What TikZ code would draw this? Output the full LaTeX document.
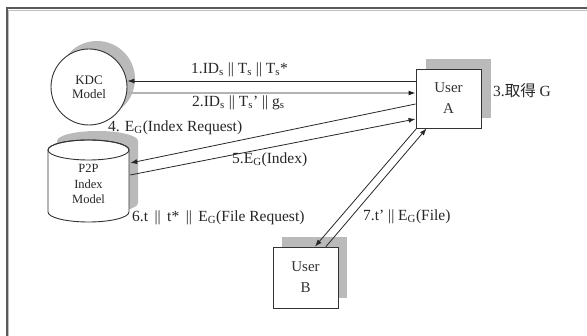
\documentclass[tikz,border=0pt]{standalone}
\usepackage{fontspec}
\setmainfont{Liberation Serif}
\newfontfamily\cjk{Noto Sans CJK TC}
\usetikzlibrary{arrows.meta,calc}

\newcommand{\sbs}[1]{\textsubscript{#1}}

\begin{document}
\begin{tikzpicture}[x=1pt,y=-1pt,
  shade/.style={fill=black!27,draw=none},
  edge/.style={draw=black!80,line width=0.9pt},
  userbox/.style={rectangle,edge,fill=white,minimum width=65pt,align=center,
    font=\fontsize{15}{21}\selectfont,text=black!80},
  lbl/.style={anchor=west,inner sep=0pt,font=\fontsize{15.5}{17}\selectfont,text=black!85},
  arr/.style={-{Latex[length=7pt,width=5pt]},line width=0.8pt,draw=black!85},
  garr/.style={-{Latex[length=7pt,width=5pt,color=black!90]},line width=1.2pt,draw=black!30},
]
\useasboundingbox (0,0) rectangle (587,336);

% outer frame (only top and left edges fall inside the page)
\coordinate (fr1) at (600,8);
\coordinate (fr2) at (6.5,8);
\coordinate (fr3) at (6.5,345);
\draw[line width=2pt,black!65] (fr1) -- (fr2) -- (fr3);
\draw[line width=0.6pt,black!25] (600,10.2) -- (8.7,10.2) -- (8.7,345);

% KDC circle with shadow
\fill[shade] (97,79) circle[radius=38];
\node[circle,edge,fill=white,minimum size=76pt,align=center,inner sep=0pt,
  font=\fontsize{13}{14}\selectfont,text=black!85] (kdc) at (89,87) {KDC\\Model};

% P2P index cylinder with shadow
\fill[shade] (57,141) -- (57,203) arc[start angle=180,end angle=0,x radius=40.5,y radius=10]
  -- (138,141) arc[start angle=0,end angle=-180,x radius=40.5,y radius=10] -- cycle;
\node[rectangle,minimum width=81pt,minimum height=82pt,inner sep=0pt] (p2p) at (88.5,181) {};
\draw[edge,fill=white] (48,150) -- (48,212) arc[start angle=180,end angle=0,x radius=40.5,y radius=10]
  -- (129,150) arc[start angle=0,end angle=-180,x radius=40.5,y radius=10];
\draw[edge] (88.5,150) ellipse[x radius=40.5,y radius=10];
\node[align=center,font=\fontsize{12.5}{15.5}\selectfont,text=black!85] at ($(p2p)+(0,3)$) {P2P\\Index\\Model};

% users with shadows
\fill[shade] (426,59) rectangle (491,118);
\node[userbox,minimum height=59pt] (ua) at (448.5,98.5) {User\\A};
\fill[shade] (282,237) rectangle (347,298);
\node[userbox,minimum height=61pt] (ub) at (305.5,277.5) {User\\B};

% connector end points (y grows downwards)
\coordinate (a1s) at ($(ua.west)+(0,-17.5)$);
\coordinate (a1e) at ($(kdc.east)+(0,-6)$);
\coordinate (a2s) at ($(kdc.east)+(0,6)$);
\coordinate (a2e) at ($(ua.west)+(0,-5.5)$);
\coordinate (a4s) at ($(ua.west)+(0,5.5)$);
\coordinate (a4e) at ($(p2p.east)+(1,-18)$);
\coordinate (a5s) at ($(p2p.east)+(1,-6)$);
\coordinate (a5e) at ($(ua.west)+(0,20.5)$);
\coordinate (a6s) at ($(ua.south west)+(1,0)$);
\coordinate (a6e) at ($(ub.north)+(9.5,0)$);
\coordinate (a7s) at ($(ub.north)+(20.5,0)$);
\coordinate (a7e) at ($(ua.south west)+(11,0)$);

\draw[arr] (a1s) -- (a1e);
\draw[garr] (a2s) -- (a2e);
\draw[arr] (a4s) -- (a4e);
\draw[arr] (a5s) -- (a5e);
\draw[arr] (a6s) -- (a6e);
\draw[arr] (a7s) -- (a7e);

% message labels
\node[lbl] (l1) at (191,70) {1.ID\sbs{s} || T\sbs{s} || T\sbs{s}*};
\node[lbl] (l2) at (192,103) {2.ID\sbs{s} || T\sbs{s}' || g\sbs{s}};
\node[lbl] (l3) at (493,91) {3.{\cjk 取得} G};
\node[lbl] (l4) at (108,128) {4. E\sbs{G}(Index Request)};
\node[lbl] (l5) at (232,160) {5.E\sbs{G}(Index)};
\node[lbl] (l6) at (132,218) {6.t \,||\, t* \,||\, E\sbs{G}(File Request)};
\node[lbl] (l7) at (363,217) {7.t' || E\sbs{G}(File)};
\end{tikzpicture}
\end{document}
